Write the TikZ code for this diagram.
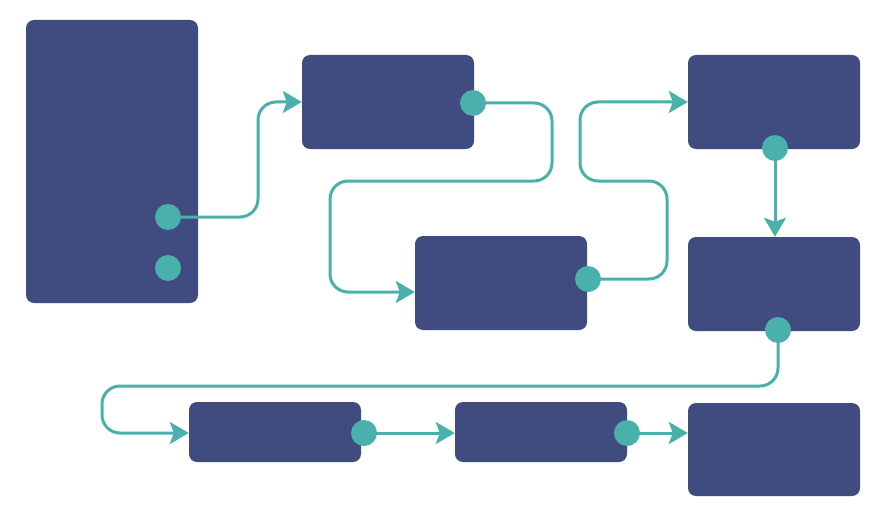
\documentclass[tikz,border=0pt]{standalone}
\usetikzlibrary{arrows.meta}
\definecolor{boxblue}{HTML}{404B80}
\definecolor{linkteal}{HTML}{4AB0AC}
\tikzset{
  box/.style={fill=boxblue, rounded corners=8pt, inner sep=0pt, minimum width=172pt},
  dot/.style={circle, fill=linkteal, inner sep=0pt, minimum size=26pt},
  link/.style={linkteal, line width=3pt, -{Stealth[length=19pt,width=22pt,inset=4pt]}},
  turn/.style={rounded corners=18pt}
}
\begin{document}
\begin{tikzpicture}[x=1pt, y=-1pt]
    \useasboundingbox (0,0) rectangle (885,524);
    \node[box, minimum height=283pt] (src) at (112,161.5) {};
    \node[box, minimum height=94pt] (a) at (388,102) {};
    \node[box, minimum height=94pt] (b) at (501,283) {};
    \node[box, minimum height=94pt] (c) at (774,102) {};
    \node[box, minimum height=94pt] (d) at (774,284) {};
    \node[box, minimum height=60pt] (e) at (275,432) {};
    \node[box, minimum height=60pt] (f) at (541,432) {};
    \node[box, minimum height=93pt] (g) at (774,449.5) {};
    \coordinate (srcout) at (168,217);
    \coordinate (aout) at (473,103);
    \coordinate (bout) at (588,279);
    \coordinate (cout) at (775,148);
    \coordinate (dout) at (778,330);
    \coordinate (eout) at (364,433);
    \coordinate (fout) at (627,433);
    \draw[link] (srcout) [turn] -- (258,217) -- (258,102) [sharp corners] -- (a.west);
    \draw[link] (aout) [turn] -- (552,103) -- (552,181) -- (330,181) -- (330,292) [sharp corners] -- (b.west |- 330,292);
    \draw[link] (bout) [turn] -- (667,279) -- (667,181) -- (580,181) -- (580,102) [sharp corners] -- (c.west);
    \draw[link] (cout) -- (cout |- d.north);
    \draw[link] (dout) [turn] -- (778,386) -- (102,386) -- (102,433) [sharp corners] -- (e.west |- eout);
    \draw[link] (eout) -- (f.west |- eout);
    \draw[link] (fout) -- (g.west |- fout);
    \node[dot] (srcdot1) at (srcout) {};
    \node[dot] (srcdot2) at (168,268) {};
    \node[dot] (adot) at (aout) {};
    \node[dot] (bdot) at (bout) {};
    \node[dot] (cdot) at (cout) {};
    \node[dot] (ddot) at (dout) {};
    \node[dot] (edot) at (eout) {};
    \node[dot] (fdot) at (fout) {};
\end{tikzpicture}
\end{document}
